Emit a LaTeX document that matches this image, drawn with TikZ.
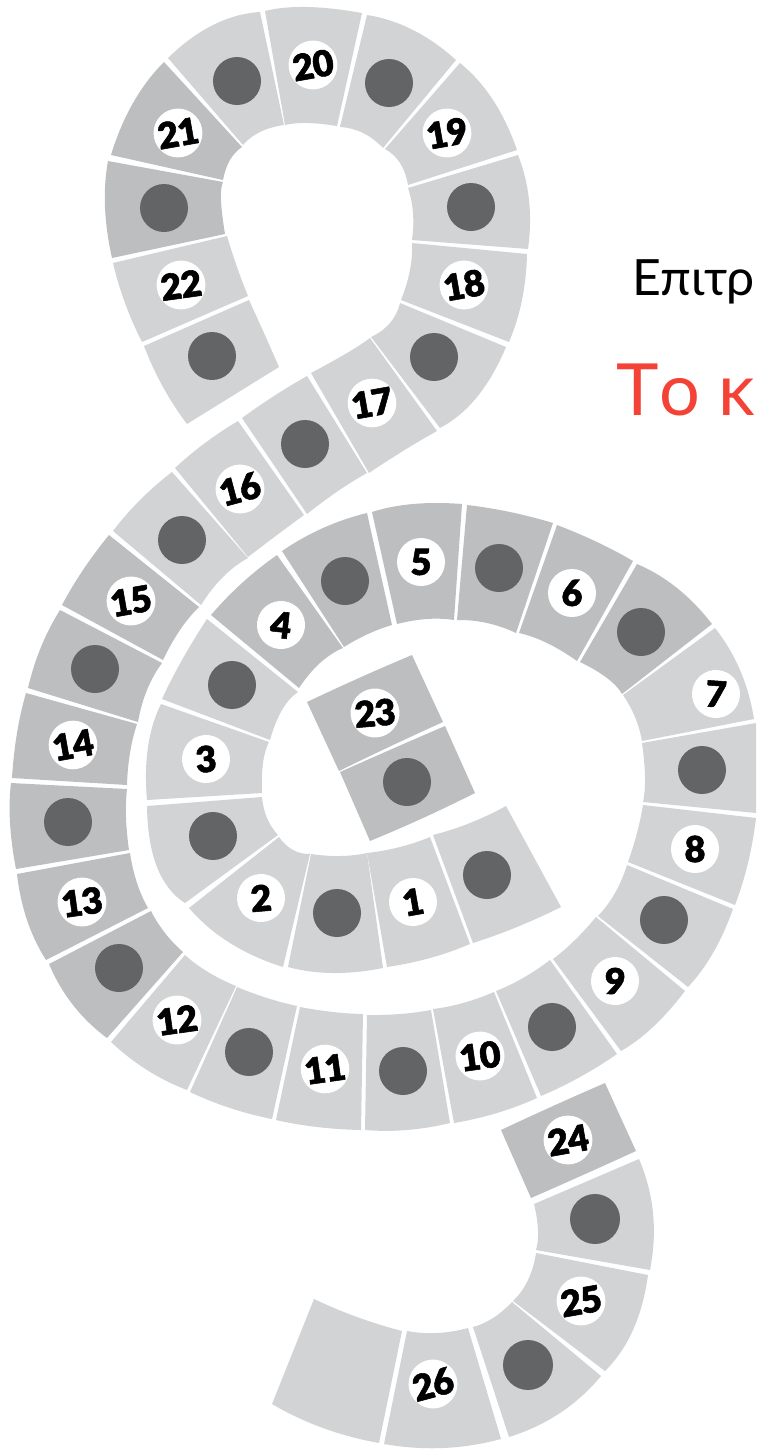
\documentclass[tikz,border=0pt]{standalone}
\usepackage{fontspec}
\usetikzlibrary{calc}
\newfontfamily\numfont[FakeBold=1.5,LetterSpace=-2]{Lato Black}
\newfontfamily\handfont{Lato}
\definecolor{lightcell}{HTML}{D1D3D4}
\definecolor{darkcell}{HTML}{BCBEC0}
\definecolor{dotgrey}{HTML}{636466}
\definecolor{redhand}{HTML}{F44336}
\newcommand{\cell}[7]{\fill[#1] (#2) .. controls ($1.3333*(#3)-0.3333*(#4)$) and ($1.3333*(#3)-0.3333*(#2)$) .. (#4) -- (#5) .. controls ($1.3333*(#6)-0.3333*(#7)$) and ($1.3333*(#6)-0.3333*(#5)$) .. (#7) -- cycle;}
\tikzset{
  numdisc/.style={circle,fill=white,inner sep=0pt,minimum size=48pt,font=\numfont\fontsize{36}{36}\selectfont,text=black},
  token/.style={circle,fill=dotgrey,inner sep=0pt,minimum size=48pt},
}
\begin{document}
\begin{tikzpicture}[x=1pt,y=-1pt]
\useasboundingbox (0,0) rectangle (756,1449);
% upper loop
\cell{lightcell}{265,11}{307,7}{362,13}{337,126}{307,123}{285,125}
\cell{lightcell}{168,58}{213,25}{260,12}{284,125}{260,132}{243,145}
\cell{darkcell}{164,62}{133,103}{111,155}{223,180}{230,160}{242,147}
\cell{darkcell}{108,161}{105,207}{112,258}{225,234}{221,200}{223,182}
\cell{lightcell}{113,263}{125,303}{142,342}{248,296}{237,267}{227,236}
\cell{lightcell}{144,346}{163,387}{187,424}{279,367}{264,333}{249,300}
\cell{lightcell}{367,15}{413,30}{456,60}{383,148}{363,133}{340,127}
\cell{lightcell}{460,63}{493,100}{517,150}{408,185}{400,163}{385,149}
\cell{lightcell}{518,155}{529,200}{528,249}{412,240}{413,213}{408,188}
\cell{lightcell}{527,254}{522,300}{509,342}{401,300}{410,270}{412,243}
\cell{lightcell}{506,347}{477,397}{440,428}{371,337}{390,323}{400,303}
\cell{lightcell}{437,431}{403,451}{369,473}{311,373}{347,353}{370,338}
\cell{lightcell}{242,418}{274,396}{307,376}{367,473}{338,491}{307,514}
\cell{lightcell}{175,468}{205,443}{238,421}{304,515}{277,535}{248,557}
\cell{lightcell}{113,531}{140,500}{172,472}{248,558}{223,577}{201,605}
\cell{darkcell}{62,605}{83,570}{109,535}{199,607}{180,630}{163,660}
\cell{darkcell}{28,688}{41,647}{60,610}{162,663}{147,690}{138,722}
\cell{darkcell}{12,778}{17,733}{26,693}{137,724}{130,753}{127,785}
\cell{darkcell}{11,783}{10,823}{16,869}{129,850}{126,817}{127,789}
\cell{darkcell}{17,874}{27,920}{46,960}{148,908}{137,883}{130,853}
\cell{darkcell}{49,964}{73,1005}{107,1038}{183,952}{165,933}{151,911}
\cell{lightcell}{111,1042}{147,1070}{187,1090}{236,986}{208,972}{185,955}
\cell{lightcell}{190,1092}{230,1108}{272,1119}{297,1006}{267,998}{237,987}
\cell{lightcell}{276,1120}{317,1127}{361,1130}{363,1014}{333,1012}{300,1007}
\cell{lightcell}{365,1130}{407,1130}{450,1123}{431,1010}{400,1014}{367,1015}
\cell{lightcell}{454,1123}{497,1113}{537,1098}{494,992}{463,1003}{433,1009}
\cell{lightcell}{541,1096}{580,1077}{617,1054}{550,960}{523,978}{496,991}
\cell{lightcell}{621,1051}{653,1027}{685,991}{596,917}{575,940}{553,959}
\cell{lightcell}{688,987}{713,953}{733,909}{627,865}{615,893}{598,916}
\cell{lightcell}{735,905}{748,863}{756,818}{643,805}{637,833}{628,862}
\cell{lightcell}{642,743}{645,777}{643,802}{756,813}{756,768}{756,723}
\cell{lightcell}{715,628}{740,670}{754,719}{642,741}{635,717}{623,695}
% inner spiral
\cell{darkcell}{637,564}{677,588}{712,624}{622,694}{607,678}{580,662}
\cell{darkcell}{557,525}{597,542}{633,561}{577,661}{547,643}{519,633}
\cell{darkcell}{467,505}{510,512}{553,523}{516,633}{487,623}{457,620}
\cell{darkcell}{372,512}{413,504}{462,504}{454,620}{427,619}{397,624}
\cell{darkcell}{282,551}{323,528}{367,513}{392,625}{368,634}{344,647}
\cell{darkcell}{211,615}{242,583}{277,555}{343,648}{320,663}{299,688}
\cell{lightcell}{162,699}{182,660}{207,619}{298,692}{282,710}{270,740}
\cell{lightcell}{147,800}{148,747}{161,704}{269,742}{263,763}{262,793}
\cell{lightcell}{147,806}{157,867}{185,903}{278,835}{267,818}{262,797}
\cell{lightcell}{189,908}{230,943}{283,967}{310,854}{293,850}{279,837}
\cell{lightcell}{288,967}{333,973}{383,968}{367,853}{340,856}{311,854}
\cell{lightcell}{387,967}{430,958}{470,944}{430,837}{400,847}{367,853}
\cell{lightcell}{473,943}{517,927}{561,907}{506,806}{470,823}{433,835}
\cell{darkcell}{307,702}{359,678}{412,655}{443,722}{391,746}{339,771}
\cell{darkcell}{340,772}{392,749}{445,726}{475,793}{423,818}{370,841}
% tail
\cell{darkcell}{501,1130}{553,1106}{605,1083}{636,1151}{583,1175}{531,1198}
\cell{lightcell}{639,1159}{653,1213}{650,1270}{536,1250}{538,1230}{534,1204}
\cell{lightcell}{648,1275}{633,1330}{605,1371}{513,1301}{528,1280}{536,1253}
\cell{lightcell}{601,1376}{560,1413}{509,1437}{473,1327}{493,1318}{512,1302}
\cell{lightcell}{501,1439}{443,1448}{384,1444}{407,1331}{437,1333}{468,1328}
\cell{lightcell}{314,1299}{357,1317}{402,1331}{379,1443}{323,1428}{272,1404}
% tokens
\foreach \i/\x/\y in {a/237/81,b/389/83,c/471/207,d/434/357,e/212/356,f/164/208,g/305/444,h/182/540,i/95/669,j/68/822,k/119/968,l/249/1052,m/403/1071,n/552/1027,o/664/920,p/702/770,q/641/632,r/499/568,s/345/581,t/232/685,u/213/836,v/337/913,w/487/875,x/407/782}
  \node[token] (tok\i) at (\x,\y) {};
\node[token,minimum size=50pt] (toky) at (595,1219) {};
\node[token,minimum size=50pt] (tokz) at (528,1365) {};
% numbers
\foreach \v/\x/\y/\r in {1/413/902/10,2/261/898/5,3/206/759/5,4/281/625/-6,5/421/562/0,6/572/593/0,7/716/694/-4,8/695/849/0,9/615/981/-3,10/480/1056/8,11/325/1069/8,12/177/1020/8,13/82/902/8,14/73/745/10,15/131/601/10,16/240/489/15,17/372/403/10,18/464/285/10,19/447/133/10,20/313/65/10,21/178/133/10,22/181/285/8,23/375/713/5,24/568/1140/10,25/581/1301/10,26/433/1384/15}
  \node[numdisc,rotate=\r] (num\v) at (\x,\y) {\v};
% handwriting
\node[anchor=base west,inner sep=0pt,font=\handfont\fontsize{50}{50}\selectfont,text=black] (hand) at (632,295) {Επιτρ};
\node[anchor=base west,inner sep=0pt,font=\handfont\fontsize{72}{72}\selectfont,text=redhand] (handred) at (616,415) {Τ\kern1ptο\ κ};
\end{tikzpicture}
\end{document}
